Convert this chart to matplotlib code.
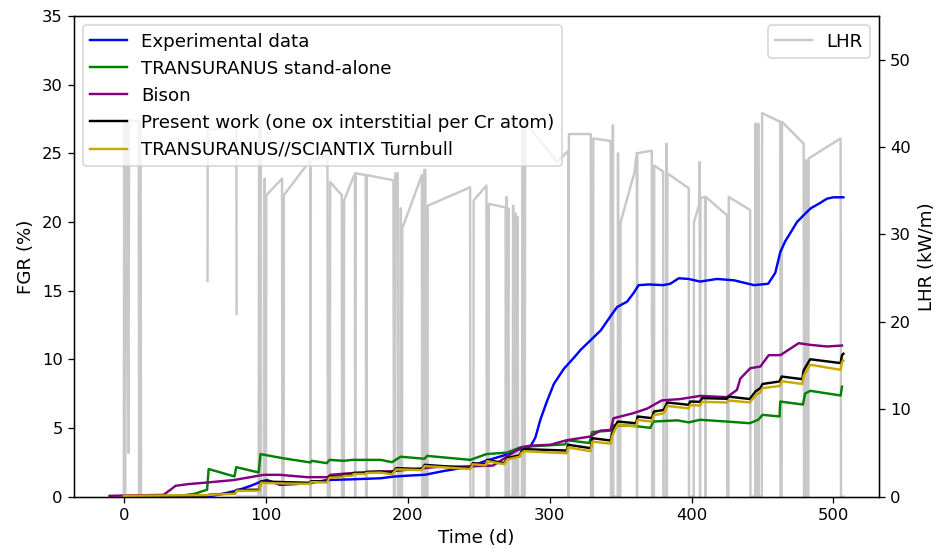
import numpy as np
import matplotlib
matplotlib.use("Agg")
import matplotlib.pyplot as plt

nan = np.nan

# FGR curves (%) vs irradiation time (d)
exp_t = [60, 70, 80, 90, 97, 101, 110, 120, 131, 143,
         160, 181, 190, 200, 212, 225, 244, 255, 268, 279,
         286.5, 290, 293.5, 298, 303, 310, 317, 322, 330, 336,
         342, 347.5, 354.6, 359, 362.7, 370, 380, 385, 391, 398,
         406, 418, 430, 444, 454, 459, 462.5, 466, 469.6, 474.3,
         479, 484, 490, 495.4, 500, 505, 507]
exp_v = [0, 0.2, 0.45, 0.8, 1.1, 1.2, 0.85, 0.9, 0.97, 1.2,
         1.25, 1.33, 1.45, 1.52, 1.58, 1.85, 2.18, 2.6, 3.0, 3.45,
         3.64, 4.3, 5.6, 6.9, 8.2, 9.3, 10.1, 10.7, 11.5, 12.1,
         13.0, 13.8, 14.2, 14.8, 15.4, 15.45, 15.4, 15.5, 15.9, 15.85,
         15.66, 15.85, 15.75, 15.4, 15.5, 16.3, 17.8, 18.6, 19.2, 20.0,
         20.5, 21.0, 21.35, 21.7, 21.8, 21.8, 21.8]

tu_t = [0, 40, 50, 58.7, 59.8, 78, 79.2, 95, 96.3, 111.5,
        131.5, 132.5, 143, 145, 155, 161, 181, 189, 195, 211.8,
        213.7, 244.2, 255.5, 270, 280, 286, 311, 312.5, 328, 330,
        343, 345, 359, 371, 373, 390, 398, 406, 425, 441,
        447, 450, 462, 462.5, 478.5, 480, 483.6, 505, 506]
tu_v = [0, 0.05, 0.2, 0.5, 2.0, 1.46, 2.14, 1.75, 3.09, 2.8,
        2.48, 2.6, 2.43, 2.67, 2.6, 2.67, 2.67, 2.5, 2.9, 2.75,
        2.96, 2.67, 3.09, 3.2, 3.6, 3.65, 3.8, 4.1, 3.9, 4.7,
        4.8, 5.2, 5.15, 5.0, 5.46, 5.55, 5.4, 5.59, 5.46, 5.34,
        5.59, 5.95, 5.83, 6.92, 6.7, 7.5, 7.7, 7.36, 8.0]

bison_t = [-10, 28, 33, 36.5, 45, 58.7, 77.5, 98.6, 110, 129,
           144, 145.5, 159.7, 181, 190, 200, 220, 245, 260, 270,
           279.4, 286, 300.5, 312, 328.6, 335.7, 343, 345, 359, 368.6,
           379, 392, 406, 425, 432, 434.4, 441.4, 448.5, 454.4, 462.6,
           475.5, 483.6, 495.4, 506]
bison_v = [0.05, 0.12, 0.5, 0.78, 0.9, 1.02, 1.2, 1.58, 1.58, 1.41,
           1.41, 1.58, 1.7, 1.82, 1.85, 1.95, 2.15, 2.2, 2.25, 2.9,
           3.55, 3.7, 3.77, 4.1, 4.37, 4.8, 4.85, 5.7, 6.07, 6.4,
           7.0, 7.1, 7.33, 7.24, 7.77, 8.6, 9.35, 9.47, 10.3, 10.3,
           11.17, 11.05, 10.93, 11.0]

# present work and TU//SCIANTIX share the same output times
model_t = [0, 58, 60, 78.5, 79.5, 95.5, 96.5, 112, 131, 132,
           143, 145, 154, 155, 161, 162, 170, 171, 181, 189,
           192, 210, 212, 244, 246, 255, 256, 268, 270, 279,
           280, 282, 312, 313, 329, 330, 343, 344, 346, 348,
           361, 362, 372, 373.5, 380, 381, 382.8, 398, 399, 406,
           407.4, 425, 426, 441, 445, 448.5, 450, 462, 463.5, 478,
           479, 483.6, 505, 506, 507]
present_v = [0, 0.05, 0.12, 0.25, 0.49, 0.49, 1.1, 1.05, 1.0, 1.12,
             1.08, 1.46, 1.45, 1.58, 1.6, 1.72, 1.72, 1.8, 1.82, 1.72,
             2.07, 2.0, 2.31, 2.07, 2.43, 2.35, 2.67, 2.43, 2.8, 3.0,
             3.28, 3.45, 3.35, 3.77, 3.52, 4.25, 4.08, 4.6, 5.1, 5.46,
             5.34, 5.83, 5.71, 6.19, 6.3, 6.44, 6.85, 6.68, 6.92, 6.9,
             7.17, 7.12, 7.28, 7.1, 7.65, 7.9, 8.2, 8.38, 8.74, 8.55,
             9.2, 10.0, 9.72, 10.3, 10.4]
turnbull_v = [0.05, 0.1, 0.12, 0.2, 0.42, 0.42, 1.0, 0.95, 0.92, 1.05,
              1.02, 1.38, 1.4, 1.5, 1.52, 1.64, 1.64, 1.72, 1.74, 1.62,
              1.98, 1.92, 2.22, 2.0, 2.35, 2.27, 2.58, 2.35, 2.7, 2.9,
              3.15, 3.3, 3.15, 3.57, 3.3, 4.0, 3.85, 4.37, 4.87, 5.22,
              5.1, 5.58, 5.46, 5.93, 6.05, 6.18, 6.6, 6.42, 6.66, 6.63,
              6.9, 6.85, 7.0, 6.85, 7.38, 7.6, 7.9, 8.05, 8.4, 8.2,
              8.8, 9.6, 9.23, 9.8, 9.9]

# linear heat rate history (kW/m); nan = gap in the record
lhr_t = [0, 0.3, 0.9, 1.5, 2.2, 3.2, 3.8, 4.6, 10.5, 10.8, 11.4, 11.8, 12.2, 58.5,
         nan, 59.0, 59.2, 79.3, 79.5, nan,
         80.0, 95.0, 95.3, 96.5, 96.8, 99.0, 99.3, 99.6, 100.2, 100.4,
         111.5, 111.7, 112.6, 112.8, 131.4, 131.6, 131.8, 143.5, 143.8, 145.2,
         145.4, 153.6, 153.8, 155.0, 155.2, 162.8, 163.0, 163.4, 170.5, 170.7,
         171.0, 171.2, 190.0, 190.3, 191.0, 191.3, 193.0, 193.3, 195.0, 195.2,
         195.5, 196.0, 196.2, 210.0, 210.2, 211.5, 211.7, 212.5, 212.8, 214.0,
         214.2, 244.0, 244.2, 246.3, 246.5, 255.5, 255.7, 257.0, 257.2, 269.0,
         269.2, 269.5, 269.8, 271.0, 271.3, 274.0, 274.3, 274.6, 276.0, 276.3,
         277.5, 277.8, 280.5, 280.8, 281.5, 282.5, 282.8, 305.3, 313.2, 313.4,
         313.6, 329.0, 329.2, 330.5, 330.8, 343.0, 343.2, 344.3, 344.6, 344.9,
         348.0, 348.2, 348.5, 349.8, 350.0, 359.6, 361.4, 361.6, 361.8, 372.0,
         372.2, 373.5, 373.7, 380.0, 380.2, 382.0, 382.3, 382.6, 383.0, 398.0,
         398.2, 401.5, 401.7, 405.5, 405.7, 406.0, 406.3, 409.5, 409.7, 410.0,
         425.0, 425.2, 426.0, 426.2, 441.3, 441.5, 444.8, 445.0, 445.3, 446.8,
         447.0, 447.3, 449.5, 449.7, 462.5, 462.7, 463.5, 463.7, 479.0, 479.2,
         480.5, 480.7, 481.0, 482.3, 482.5, 505.0, 505.3, 507.0]
lhr_v = [0, 43.0, 0, 43.0, 43.1, 5.0, 43.1, 43.0, 43.0, 0, 43.0, 43.0, 0, 0,
         nan, 24.7, 42.0, 42.3, 20.9, nan,
         0, 0, 43.0, 43.0, 0, 0, 36.4, 0, 0, 34.5,
         36.4, 0, 0, 34.5, 38.5, 0, 38.5, 39.1, 0, 0,
         36.0, 34.5, 0, 0, 33.9, 37.0, 0, 37.0, 36.8, 0,
         0, 36.8, 36.2, 0, 0, 37.0, 37.0, 0, 0, 33.0,
         0, 0, 30.7, 36.8, 0, 0, 37.4, 37.4, 0, 0,
         33.3, 35.4, 0, 0, 33.9, 35.6, 0, 0, 33.5, 33.1,
         0, 34.3, 0, 33.0, 0, 0, 33.3, 0, 32.4, 0,
         32.0, 0, 0, 42.9, 0, 0, 42.9, 38.3, 39.6, 0,
         41.5, 41.5, 0, 0, 41.0, 40.7, 0, 0, 42.5, 0,
         0, 39.3, 0, 0, 31.4, 37.0, 39.3, 0, 39.3, 39.6,
         0, 0, 37.9, 37.2, 0, 0, 40.4, 0, 37.0, 35.3,
         0, 0, 31.4, 33.5, 38.3, 0, 34.2, 34.3, 0, 34.3,
         32.2, 0, 0, 34.3, 32.8, 0, 0, 42.7, 0, 0,
         42.7, 0, 0, 43.9, 42.9, 0, 0, 42.9, 40.4, 0,
         0, 38.5, 0, 0, 38.7, 41.0, 0, 0]

plt.rcParams["font.size"] = 11.3
plt.rcParams["xtick.labelsize"] = 10.2
plt.rcParams["ytick.labelsize"] = 10.2

fig, ax = plt.subplots(figsize=(938 / 116, 556 / 116), dpi=116)
ax2 = ax.twinx()
ax2.plot(lhr_t, lhr_v, color="#c8c8c8", lw=1.5, label="LHR")
ax.set_zorder(ax2.get_zorder() + 1)
ax.patch.set_visible(False)

ax.plot(exp_t, exp_v, color="blue", label="Experimental data")
ax.plot(tu_t, tu_v, color="green", label="TRANSURANUS stand-alone")
ax.plot(bison_t, bison_v, color="purple", label="Bison")
ax.plot(model_t, present_v, color="black",
        label="Present work (one ox interstitial per Cr atom)")
ax.plot(model_t, turnbull_v, color="#c9a800", label="TRANSURANUS//SCIANTIX Turnbull")

ax.set_xlim(-35, 532)
ax.set_ylim(0, 35)
ax2.set_ylim(0, 55)
ax.set_xlabel("Time (d)")
ax.set_ylabel("FGR (%)")
ax2.set_ylabel("LHR (kW/m)")
ax.legend(loc="upper left")
ax2.legend(loc="upper right")

fig.subplots_adjust(left=0.079, right=0.937, bottom=0.107, top=0.971)
fig.savefig("out.png", dpi=116)
